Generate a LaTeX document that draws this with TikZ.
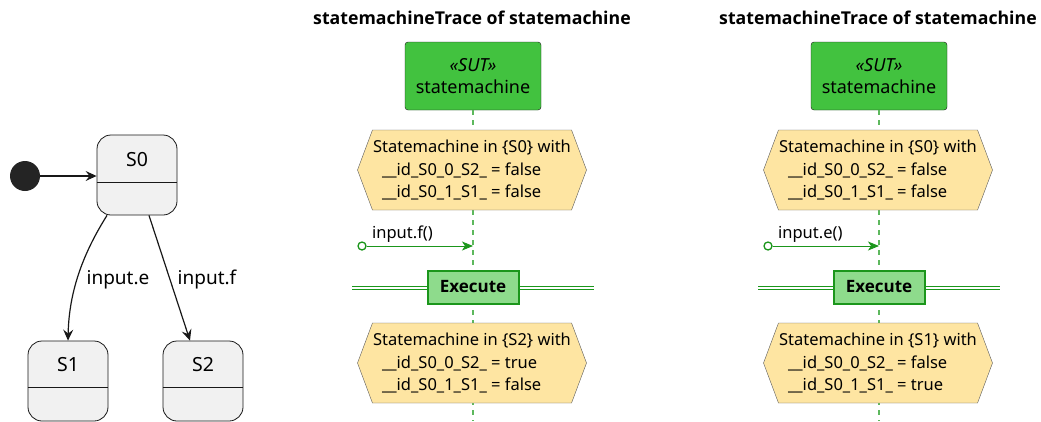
\documentclass[tikz,border=0pt]{standalone}
\usepackage{fontspec}
\setmainfont{Noto Sans}
\newfontfamily\heavyfont{Open Sans}
\usetikzlibrary{positioning,calc,arrows.meta,shapes.symbols}
\definecolor{statefill}{HTML}{F1F1F1}
\definecolor{stateline}{HTML}{181818}
\definecolor{sutgreen}{HTML}{42C23F}
\definecolor{notefill}{HTML}{FEE5A2}
\definecolor{noteline}{HTML}{5A5A5A}
\definecolor{lifegreen}{HTML}{5DB85D}
\definecolor{msggreen}{HTML}{1B961B}
\definecolor{execfill}{HTML}{8EDB8C}
\begin{document}
\begin{tikzpicture}[
  x=1pt, y=-1pt,
  state/.style={rectangle, draw=stateline, fill=statefill, rounded corners=14pt, minimum width=80pt, minimum height=80pt, line width=0.8pt},
  statename/.style={font=\fontsize{19.5}{22}\selectfont, inner sep=0pt},
  trans/.style={-{Stealth[length=11pt, width=10pt, inset=4pt]}, line width=1.2pt, draw=stateline},
  translabel/.style={font=\fontsize{19}{22}\selectfont, inner sep=0pt},
  title/.style={font=\heavyfont\bfseries\fontsize{17.7}{20}\selectfont},
  sut/.style={rectangle, draw=stateline, fill=sutgreen, rounded corners=3pt, minimum width=136pt, minimum height=68pt, align=center, font=\fontsize{18}{22}\selectfont},
  lifeline/.style={draw=lifegreen, dash pattern=on 5pt off 5pt, line width=1.3pt},
  note/.style={shape=signal, signal to=west and east, signal pointer angle=139, draw=noteline, fill=notefill, align=left, minimum width=229pt, minimum height=80pt, inner sep=0pt, font=\fontsize{16.5}{22.5}\selectfont},
  msgstart/.style={circle, draw=msggreen, fill=white, line width=1.3pt, minimum size=8pt, inner sep=0pt},
  msg/.style={-{Stealth[length=11pt, width=9pt, inset=3pt]}, draw=msggreen, fill=msggreen, line width=0.9pt},
  msglabel/.style={font=\fontsize{16.5}{18}\selectfont, inner sep=1pt},
  divider/.style={draw=msggreen, double=white, double distance=2pt, line width=1pt},
  exec/.style={rectangle, draw=msggreen, fill=execfill, line width=2pt, minimum width=91pt, minimum height=33pt, font=\heavyfont\bfseries\fontsize{17}{18}\selectfont}
]
\useasboundingbox (0,0) rectangle (1041,421);

% State diagram
\node[circle, fill=stateline!95, minimum size=30pt, inner sep=0pt] (init) at (25,176) {};
\node[state] (s0) at (137,175) {};
\node[state] (s1) at (68,381) {};
\node[state] (s2) at (203,381) {};
\node[statename] (s0name) at (137,160) {S0};
\node[statename] (s1name) at (68,365) {S1};
\node[statename] (s2name) at (203,365) {S2};
\draw[stateline, line width=0.8pt] (s0.west |- 0,182) -- (s0.east |- 0,182);
\draw[stateline, line width=0.8pt] (s1.west |- 0,387) -- (s1.east |- 0,387);
\draw[stateline, line width=0.8pt] (s2.west |- 0,387) -- (s2.east |- 0,387);

% Transitions
\draw[trans] (init) -- (s0.west |- init);
\draw[trans] ($(s0.south)+(-30,0)$) .. controls (84,252) and (69,290) .. (s1.north);
\draw[trans] ($(s0.south)+(12,0)$) -- ($(s2.north)+(-13,0)$);
\node[translabel] (lbl_e) at (118,280) {input.e};
\node[translabel] (lbl_f) at (207,280) {input.f};

% Trace for input.f
\node[title] (title1) at (472,18) {statemachineTrace of statemachine};
\node[sut] (sut1) at (473,76) {\textit{«SUT»}\\statemachine};
\coordinate (end1) at (473,421);
\draw[lifeline] (sut1.south) -- (end1);
\node[note] (pre1) at (472,170) {Statemachine in \{S0\} with\\\hspace*{9pt}\_\_id\_S0\_0\_S2\_ = false\\\hspace*{9pt}\_\_id\_S0\_1\_S1\_ = false};
\node[msgstart] (start1) at (362,246) {};
\draw[msg] (start1) -- (start1 -| sut1) node[pos=0, msglabel, anchor=south west, xshift=4pt, yshift=2pt] (msg1) {input.f()};
\coordinate (div1l) at (352,288);
\coordinate (div1r) at (594,288);
\draw[divider] (div1l) -- (div1r);
\node[exec] (exec1) at (473,287) {Execute};
\node[note] (post1) at (472,363) {Statemachine in \{S2\} with\\\hspace*{9pt}\_\_id\_S0\_0\_S2\_ = true\\\hspace*{9pt}\_\_id\_S0\_1\_S1\_ = false};

% Trace for input.e
\node[title] (title2) at (878,18) {statemachineTrace of statemachine};
\node[sut] (sut2) at (879,76) {\textit{«SUT»}\\statemachine};
\coordinate (end2) at (879,421);
\draw[lifeline] (sut2.south) -- (end2);
\node[note] (pre2) at (878,170) {Statemachine in \{S0\} with\\\hspace*{9pt}\_\_id\_S0\_0\_S2\_ = false\\\hspace*{9pt}\_\_id\_S0\_1\_S1\_ = false};
\node[msgstart] (start2) at (768,246) {};
\draw[msg] (start2) -- (start2 -| sut2) node[pos=0, msglabel, anchor=south west, xshift=4pt, yshift=2pt] (msg2) {input.e()};
\coordinate (div2l) at (758,288);
\coordinate (div2r) at (1000,288);
\draw[divider] (div2l) -- (div2r);
\node[exec] (exec2) at (879,287) {Execute};
\node[note] (post2) at (878,363) {Statemachine in \{S1\} with\\\hspace*{9pt}\_\_id\_S0\_0\_S2\_ = false\\\hspace*{9pt}\_\_id\_S0\_1\_S1\_ = true};

\end{tikzpicture}
\end{document}
